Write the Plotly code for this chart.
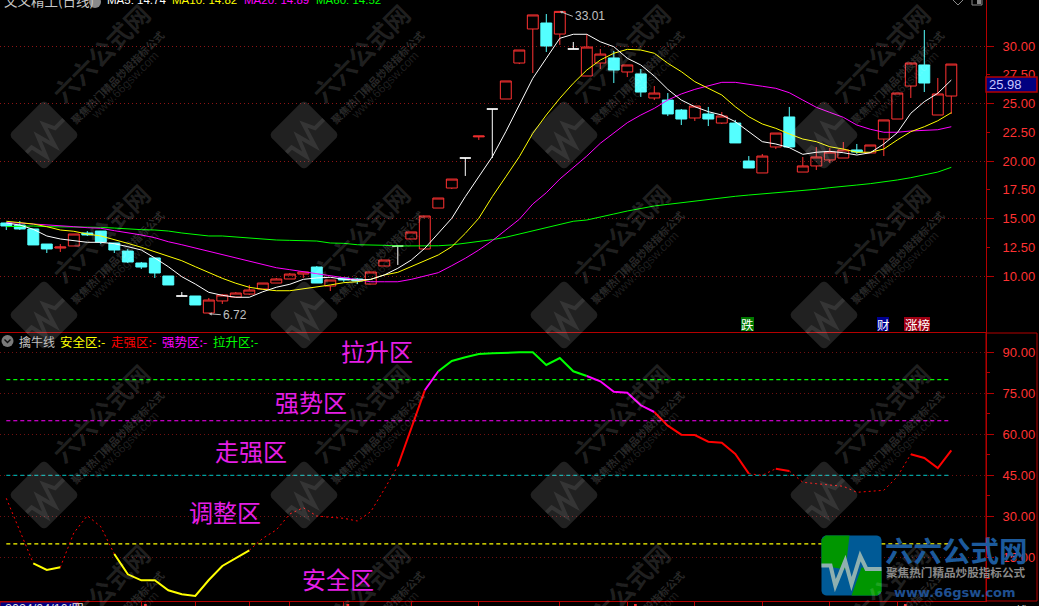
import math
import plotly.graph_objects as go

W, H = 1039, 606
CN = "Noto Sans CJK SC"
LAT = "Liberation Sans"

opens = [14.61,14.43,14.09,12.78,12.43,12.61,13.74,13.91,12.87,12.17,
         11.13,11.57,10.00,8.26,8.26,6.78,7.83,8.17,8.43,8.87,
         9.39,9.74,10.17,10.78,9.13,9.83,9.74,9.30,10.87,12.61,
         13.22,12.35,15.91,17.65,20.26,22.10,24.52,25.39,28.52,31.48,
         32.00,31.04,29.74,27.39,28.52,28.96,27.74,27.57,25.48,25.30,
         24.43,23.74,24.09,23.30,23.30,20.00,18.96,21.22,23.83,19.04,
         19.57,20.09,20.26,20.96,20.70,21.91,23.65,26.52,28.35,24.00,
         25.65]
closes = [14.35,14.09,12.70,12.35,12.52,13.65,13.57,12.96,12.26,11.22,
          10.78,10.26,9.22,8.26,7.48,7.91,8.35,8.52,8.78,9.39,
          9.74,10.17,10.35,9.39,9.65,9.65,9.57,10.35,11.39,12.61,
          13.83,15.22,16.78,18.43,20.26,22.17,24.52,26.96,29.65,32.70,
          30.00,33.01,29.74,29.91,29.30,27.91,28.35,26.00,25.91,24.09,
          23.65,24.78,23.65,23.91,21.57,19.39,20.43,22.43,21.22,19.57,
          20.35,20.78,20.96,20.78,21.39,23.57,25.91,28.52,26.78,25.83,
          28.43]
highs = [14.61,14.78,14.09,12.78,12.78,13.65,13.91,13.91,12.87,12.35,
         11.22,11.57,10.00,8.61,8.26,8.09,8.43,8.61,9.22,9.39,
         9.83,10.26,10.35,10.87,9.65,9.83,9.83,10.35,11.39,12.61,
         13.83,15.22,16.78,18.43,20.26,22.17,24.52,26.96,29.65,32.70,
         32.78,33.01,30.35,31.04,29.74,29.57,28.35,28.00,26.52,25.91,
         24.52,24.78,24.70,24.26,23.57,20.43,20.61,22.43,24.70,20.35,
         21.22,21.13,21.65,21.48,21.39,23.57,25.91,28.52,31.39,27.22,
         28.43]
lows = [14.00,14.00,12.70,12.00,12.09,12.61,13.48,12.78,12.00,11.13,
        10.61,9.83,9.22,8.26,7.48,6.72,7.57,8.17,8.35,8.87,
        9.39,9.74,9.83,9.39,8.70,9.48,9.30,9.30,10.87,10.96,
        13.22,12.35,15.91,17.57,18.70,21.83,20.26,25.39,28.43,27.65,
        29.48,30.09,29.74,27.39,28.00,26.78,27.30,25.57,25.30,23.91,
        23.13,23.48,23.04,23.22,21.57,19.39,18.96,21.04,21.22,19.04,
        19.22,19.83,20.26,20.61,20.70,20.43,23.65,25.48,26.00,24.00,
        24.09]
doji_days = [13, 29, 34, 36, 42]

ma5 = [14.61,14.43,14.06,13.48,13.22,13.07,12.93,12.93,12.81,12.55,
       12.26,11.57,10.81,9.94,9.30,8.58,8.32,8.15,8.15,8.63,
       9.02,9.28,9.71,9.83,9.89,9.71,9.65,9.71,10.09,10.67,
       11.39,12.41,13.71,15.02,16.90,18.63,20.37,22.55,24.87,27.19,
       28.93,30.67,31.02,31.02,30.37,29.94,28.93,28.35,27.39,26.23,
       25.30,24.72,24.29,24.00,23.42,22.55,21.68,21.48,21.16,20.58,
       20.76,20.84,20.72,20.52,20.72,21.48,22.46,24.15,25.16,25.89,
       27.04]
ma10 = [14.76,14.67,14.52,14.29,14.00,13.89,13.65,13.48,13.19,12.84,
        12.50,12.11,11.68,11.33,10.81,10.29,9.80,9.37,9.02,8.84,
        8.72,8.72,8.87,9.02,9.22,9.42,9.50,9.71,10.09,10.32,
        10.81,11.33,11.83,12.55,13.71,15.02,16.90,18.63,20.37,22.41,
        24.00,25.45,26.76,27.91,28.78,29.37,29.71,29.65,29.37,28.50,
        27.77,26.90,26.32,25.74,24.72,23.85,23.22,22.84,22.35,21.91,
        21.68,21.24,21.04,20.76,20.76,21.04,21.83,22.55,22.98,23.50,
        24.20]
ma20 = [14.63,14.61,14.52,14.46,14.37,14.29,14.20,14.15,13.94,13.77,
        13.57,13.33,12.98,12.72,12.43,12.11,11.83,11.54,11.24,10.98,
        10.72,10.55,10.37,10.23,10.00,9.83,9.65,9.50,9.50,9.50,
        9.71,10.00,10.29,10.90,11.54,12.26,13.07,14.00,14.93,16.26,
        17.24,18.43,19.42,20.43,21.54,22.41,23.33,24.00,24.58,25.30,
        25.83,26.23,26.52,26.84,26.84,26.70,26.50,26.32,25.94,25.30,
        24.67,24.23,23.80,23.13,22.76,22.50,22.50,22.61,22.67,22.72,
        22.98]
ma60 = [14.29,14.35,14.35,14.29,14.29,14.29,14.26,14.23,14.17,14.09,
        14.03,14.00,13.91,13.74,13.59,13.48,13.48,13.39,13.28,13.22,
        13.13,13.10,13.07,13.04,12.87,12.84,12.72,12.72,12.67,12.61,
        12.61,12.63,12.63,12.70,12.84,12.98,13.16,13.37,13.65,13.89,
        14.15,14.43,14.76,14.87,15.16,15.39,15.65,15.89,16.09,16.23,
        16.37,16.52,16.70,16.84,16.93,17.04,17.13,17.24,17.33,17.42,
        17.54,17.68,17.77,17.91,18.03,18.17,18.35,18.55,18.78,19.04,
        19.45]

qinniu = [36.66,25.08,12.91,10.46,11.45,23.98,30.30,26.29,16.31,8.89,
          6.70,6.70,3.05,1.59,0.97,6.81,11.93,14.85,17.66,22.05,
          25.08,30.92,33.23,30.19,29.72,29.35,28.37,31.77,39.95,48.46,
          62.24,76.12,83.06,86.82,88.18,89.38,89.64,89.86,90.00,90.00,
          85.36,87.92,83.06,81.34,79.41,75.61,75.24,70.64,68.19,63.19,
          59.90,59.79,57.34,56.97,52.85,45.65,45.06,47.48,46.64,42.51,
          42.00,41.52,41.05,38.85,39.22,39.58,44.55,52.74,51.39,47.73,
          54.20]
# (first day, last day, colour, thick?) stretches of the line
zones = [(0, 2, "#ff0000", False), (2, 4, "#ffff00", True), (4, 8, "#ff0000", False),
         (8, 18, "#ffff00", True), (18, 29, "#ff0000", False), (29, 31, "#ff0000", True),
         (31, 32, "#ff00ff", True), (32, 43, "#00ff00", True), (43, 48, "#ff00ff", True),
         (48, 55, "#ff0000", True), (55, 57, "#ff0000", False), (57, 58, "#ff0000", True),
         (58, 67, "#ff0000", False), (67, 70, "#ff0000", True)]
levels = [80, 65, 45, 20]
level_colors = ["#00ff00", "#ff00ff", "#00a0a0", "#ffff00"]
zone_names = ["拉升区", "强势区", "走强区", "调整区", "安全区"]
zone_pos = [(377, 350), (311, 401), (251, 450), (225, 511), (338, 578)]

price_major = [10, 15, 20, 25, 30]
price_minor = [12.5, 17.5, 22.5, 27.5]
osc_major = [15, 30, 45, 60, 75, 90]
osc_minor = [7.5, 22.5, 37.5, 52.5, 67.5, 82.5]
date_ticks = [10, 14, 18, 21, 25, 30, 35, 41, 46, 51, 56, 61, 66]
ma_names = ["MA5: 14.74", "MA10: 14.82", "MA20: 14.89", "MA60: 14.52"]
ma_colors = ["#ffffff", "#ffff00", "#ff00ff", "#00ff00"]
legend_names = ["安全区:-", "走强区:-", "强势区:-", "拉升区:-"]
legend_colors = ["#ffff00", "#ff0000", "#ff00ff", "#00ff00"]

RED = "#ff3232"
CYAN = "#54ffff"
FRAME = "#b40000"
GRID = "#8c1414"

days = list(range(len(closes)))
fig = go.Figure()

keep = [d for d in days if d not in doji_days]
fig.add_trace(go.Candlestick(
    x=keep, open=[opens[d] for d in keep], high=[highs[d] for d in keep],
    low=[lows[d] for d in keep], close=[closes[d] for d in keep],
    increasing=dict(line=dict(color=RED, width=1), fillcolor="rgba(0,0,0,0)"),
    decreasing=dict(line=dict(color=CYAN, width=1), fillcolor=CYAN),
    whiskerwidth=0, hoverinfo="skip", xaxis="x", yaxis="y"))
fig.add_trace(go.Candlestick(
    x=doji_days, open=[opens[d] for d in doji_days], high=[highs[d] for d in doji_days],
    low=[lows[d] for d in doji_days], close=[closes[d] for d in doji_days],
    increasing=dict(line=dict(color="#ffffff", width=1), fillcolor="#ffffff"),
    decreasing=dict(line=dict(color="#ffffff", width=1), fillcolor="#ffffff"),
    whiskerwidth=0, hoverinfo="skip", xaxis="x", yaxis="y"))

for series, color in zip([ma60, ma20, ma10, ma5], ["#00ff00", "#ff00ff", "#ffff00", "#ffffff"]):
    fig.add_trace(go.Scatter(x=days, y=series, mode="lines", hoverinfo="skip",
                             line=dict(color=color, width=1), xaxis="x", yaxis="y"))

# carrier for the in-between price labels (no visible mark)
fig.add_trace(go.Scatter(x=days, y=closes, mode="lines", hoverinfo="skip", opacity=0,
                         line=dict(width=0), xaxis="x", yaxis="y3"))

for lv, c in zip(levels, level_colors):
    fig.add_trace(go.Scatter(x=[days[0], days[-1]], y=[lv, lv], mode="lines", hoverinfo="skip",
                             line=dict(color=c, width=1.2, dash="4px,3px"), xaxis="x2", yaxis="y2"))
for a, b, c, thick in zones:
    fig.add_trace(go.Scatter(x=days[a:b + 1], y=qinniu[a:b + 1], mode="lines", hoverinfo="skip",
                             line=dict(color=c, width=2 if thick else 1,
                                       dash="solid" if thick else "2px,3px"),
                             xaxis="x2", yaxis="y2"))


def px(x):
    return x / W


def py(y):
    return 1 - y / H


ann = []
shp = []


def text(x, y, s, color, size, font=CN, xa="left", ya="middle", **kw):
    ann.append(dict(x=px(x), y=py(y), xref="paper", yref="paper", text=s, showarrow=False,
                    xanchor=xa, yanchor=ya, font=dict(color=color, size=size, family=font), **kw))


def rotated_path(points, cx, cy, angle=-45, close=False):
    a = math.radians(angle)
    out = []
    for i, (u, v) in enumerate(points):
        X = cx + u * math.cos(a) - v * math.sin(a)
        Y = cy + u * math.sin(a) + v * math.cos(a)
        out.append(("M" if i == 0 else "L") + f"{px(X):.5f},{py(Y):.5f}")
    return " ".join(out) + (" Z" if close else "")


def round_square(half, r, steps=5):
    pts = []
    for sx, sy, start in [(1, -1, -90), (1, 1, 0), (-1, 1, 90), (-1, -1, 180)]:
        for k in range(steps + 1):
            t = math.radians(start + 90 * k / steps)
            pts.append((sx * (half - r) + r * math.cos(t), sy * (half - r) + r * math.sin(t)))
    return pts


WAVE = [(-1, 0.0), (-0.7, 0.0), (-0.54, 0.67), (-0.21, -0.15), (0, 0.62), (0.29, -0.32), (0.5, 0.12), (1, 0.12)]

# repeated watermark
for cx in [44, 304, 564, 824]:
    for cy in [135, 315, 495, 675]:
        shp.append(dict(type="path", xref="paper", yref="paper", layer="above", line_width=0,
                        fillcolor="rgba(255,255,255,0.13)",
                        path=rotated_path(round_square(25, 5), cx, cy, close=True)))
        shp.append(dict(type="path", xref="paper", yref="paper", layer="above",
                        line=dict(color="rgba(255,255,255,0.09)", width=4),
                        path=rotated_path([(u * 25, v * 25) for u, v in WAVE], cx, cy)))
        text(cx + 56, cy - 82, "<b>六六公式网</b>", "rgba(255,255,255,0.13)", 25, xa="center", textangle=-45)
        text(cx + 73, cy - 58, "<b>聚焦热门精品炒股指标公式</b>", "rgba(255,255,255,0.17)", 10.5, xa="center", textangle=-45)
        text(cx + 81, cy - 50, "www.66gsw.com", "rgba(255,255,255,0.13)", 12, font=LAT, xa="center", textangle=-45)

# header of the price panel
text(2, 0, "文义精工(日线)", "#c8c8c8", 13.5)
for x, s, c in zip([105, 170, 242, 314], ma_names, ma_colors):
    text(x, 0, s, c, 11.5, font=LAT)
shp.append(dict(type="circle", xref="paper", yref="paper", layer="above", line_width=0,
                fillcolor="#8a8a8a", x0=px(89), x1=px(101), y0=py(8), y1=py(-4)))
shp.append(dict(type="path", xref="paper", yref="paper", layer="above",
                line=dict(color="#8a8a8a", width=1),
                path=f"M{px(953)},{py(0)} L{px(958)},{py(5)} L{px(963)},{py(0)}"))
shp.append(dict(type="rect", xref="paper", yref="paper", layer="above",
                line=dict(color="#8a8a8a", width=1), fillcolor="#000000",
                x0=px(972), x1=px(982), y0=py(5), y1=py(-2)))
shp.append(dict(type="rect", xref="paper", yref="paper", layer="above", line_width=0,
                fillcolor="#8a8a8a", x0=px(977), x1=px(981), y0=py(4), y1=py(-2)))

# header of the oscillator panel
shp.append(dict(type="circle", xref="paper", yref="paper", layer="above", line_width=0,
                fillcolor="#7a7a7a", x0=px(1.5), x1=px(13.5), y0=py(347), y1=py(335)))
shp.append(dict(type="path", xref="paper", yref="paper", layer="above",
                line=dict(color="#111111", width=1.4),
                path=f"M{px(4.5)},{py(339.5)} L{px(7.5)},{py(342.5)} L{px(10.5)},{py(339.5)}"))
text(16.5, 341, "擒牛线", "#c0c0c0", 12)
for x, s, c in zip([58, 109, 160, 211], legend_names, legend_colors):
    text(x, 341, s, c, 12.5)

for (x, y), s in zip(zone_pos, zone_names):
    text(x, y, s, "#e61ee6", 24, xa="center")

# signal tags above the panel divider
for x0, x1, bg, s in [(741, 754, "#007800", "跌"), (877, 889, "#000090", "财"), (904, 930, "#a00014", "涨榜")]:
    shp.append(dict(type="rect", xref="paper", yref="paper", layer="above", line_width=0,
                    fillcolor=bg, x0=px(x0), x1=px(x1), y0=py(331), y1=py(317)))
    text((x0 + x1) / 2, 324, s, "#ffffff", 12.5, xa="center")

# price extremes
ann.append(dict(x=15, y=6.72, xref="x", yref="y", text="6.72", showarrow=True, ax=12, ay=1,
                xanchor="left", yanchor="middle", arrowcolor="#bdbdbd", arrowwidth=1, arrowhead=2,
                arrowsize=0.6, standoff=0, font=dict(color="#c0c0c0", size=12, family=LAT)))
ann.append(dict(x=41, y=33.01, xref="x", yref="y", text="33.01", showarrow=True, ax=13, ay=5,
                xanchor="left", yanchor="middle", arrowcolor="#bdbdbd", arrowwidth=1, arrowhead=2,
                arrowsize=0.6, standoff=0, font=dict(color="#c0c0c0", size=12, family=LAT)))

# last-price tag
shp.append(dict(type="rect", xref="paper", yref="paper", layer="above",
                line=dict(color=FRAME, width=1.5), fillcolor="#000080",
                x0=px(986), x1=px(1037), y0=py(92), y1=py(77)))
text(987, 84.5, "25.98", "#c8c8ff", 13, font=LAT)

# outer frame on the right and the bottom strip
shp.append(dict(type="rect", xref="paper", yref="paper", layer="below",
                line=dict(color=FRAME, width=1), fillcolor="rgba(0,0,0,0)",
                x0=px(986), x1=px(1037), y0=py(601), y1=py(333)))
shp.append(dict(type="rect", xref="paper", yref="paper", layer="above",
                line=dict(color=FRAME, width=1), fillcolor="#000080",
                x0=px(0), x1=px(78), y0=py(612), y1=py(602)))
text(3, 609, "2024/04/16/四", "#e0e0e0", 12.5, font=LAT)
text(1000, 610, "日线", "#d8d8d8", 13)
for v in [10.2, 25.2, 46.5, 66.5]:
    shp.append(dict(type="rect", xref="x2", yref="paper", layer="above", line_width=0, fillcolor=RED,
                    x0=v, x1=v + 0.2, y0=py(606), y1=py(604)))

# logo, bottom right
LX, LY, LH = 851.5, 565.5, 30
shp.append(dict(type="path", xref="paper", yref="paper", layer="above", line_width=0,
                fillcolor="#005a96", path=rotated_path(round_square(LH, 5), LX, LY, angle=0, close=True)))
shp.append(dict(type="path", xref="paper", yref="paper", layer="above", line_width=0, fillcolor="#009600",
                path=rotated_path([(-LH + 4, -LH), (-2, -LH), (-6, 4), (-LH, 0), (-LH, -LH + 4)], LX, LY, angle=0, close=True)))
shp.append(dict(type="path", xref="paper", yref="paper", layer="above", line_width=0, fillcolor="#009600",
                path=rotated_path([(0, LH), (LH - 4, LH), (LH, LH - 4), (LH, 4), (10, 2)], LX, LY, angle=0, close=True)))
shp.append(dict(type="path", xref="paper", yref="paper", layer="above",
                line=dict(color="#8fb0b0", width=4),
                path=rotated_path([(u * LH, v * LH) for u, v in WAVE], LX, LY, angle=0)))
text(956, 549, "<b>六六公式网</b>", "#1c5a9c", 28.5, xa="center")
text(956, 572, "<b>聚焦热门精品炒股指标公式</b>", "#8a8a8a", 11.6, xa="center")
text(955, 592, "<b>www.66gsw.com</b>", "#1f4f90", 13, font="DejaVu Sans", xa="center")

axis_common = dict(showgrid=False, zeroline=False, fixedrange=True)
price_range = [34 - 332 / 11.5, 34]
fig.update_layout(
    width=W, height=H, autosize=False, margin=dict(l=0, r=0, t=0, b=0, pad=0),
    paper_bgcolor="#000000", plot_bgcolor="#000000", showlegend=False, hovermode=False,
    boxgap=0.05, boxgroupgap=0.15,
    xaxis=dict(domain=[0, 986 / W], range=[-6.3 / 13.5, (986 - 6.3) / 13.5], anchor="y",
               rangeslider=dict(visible=False), showticklabels=False, ticks="",
               showline=True, linecolor=FRAME, linewidth=1, **axis_common),
    yaxis=dict(domain=[1 - 332 / H, 1], range=price_range, anchor="x", side="right",
               tickvals=price_major, tickformat=".2f", ticks="outside", ticklen=7, tickcolor=FRAME,
               tickfont=dict(color=RED, size=13, family=LAT), ticklabelstandoff=6,
               showline=True, linecolor=FRAME, linewidth=1,
               showgrid=True, gridcolor=GRID, griddash="1px,3px", gridwidth=1,
               zeroline=False, fixedrange=True),
    yaxis3=dict(range=price_range, overlaying="y", anchor="x", side="right",
                tickvals=price_minor, tickformat=".2f", ticks="outside", ticklen=3, tickcolor=FRAME,
                tickfont=dict(color=RED, size=13, family=LAT), ticklabelstandoff=10,
                showline=False, **axis_common),
    xaxis2=dict(domain=[0, 986 / W], range=[-6.3 / 13.5, (986 - 6.3) / 13.5], anchor="y2",
                tickvals=date_ticks, showticklabels=False, ticks="outside", ticklen=4, tickcolor=FRAME,
                showline=True, linecolor=FRAME, linewidth=1, **axis_common),
    yaxis2=dict(domain=[5 / H, 1 - 332 / H], range=[90 - (601 - 352.3) / 2.737, 90 + (352.3 - 332) / 2.737],
                anchor="x2", side="right",
                tickvals=osc_major, tickformat=".2f", ticks="outside", ticklen=7, tickcolor=FRAME,
                tickfont=dict(color=RED, size=13, family=LAT), ticklabelstandoff=6,
                showline=True, linecolor=FRAME, linewidth=1,
                showgrid=True, gridcolor="#701010", griddash="1px,3px", gridwidth=1,
                minor=dict(tickvals=osc_minor, ticks="outside", ticklen=3, tickcolor=FRAME),
                zeroline=False, fixedrange=True),
    annotations=ann, shapes=shp,
)

fig.write_html("out.html", config=dict(displayModeBar=False),
               post_script="document.body.style.margin='0';document.body.style.background='#000';"
                           "document.documentElement.style.overflow='hidden';")
